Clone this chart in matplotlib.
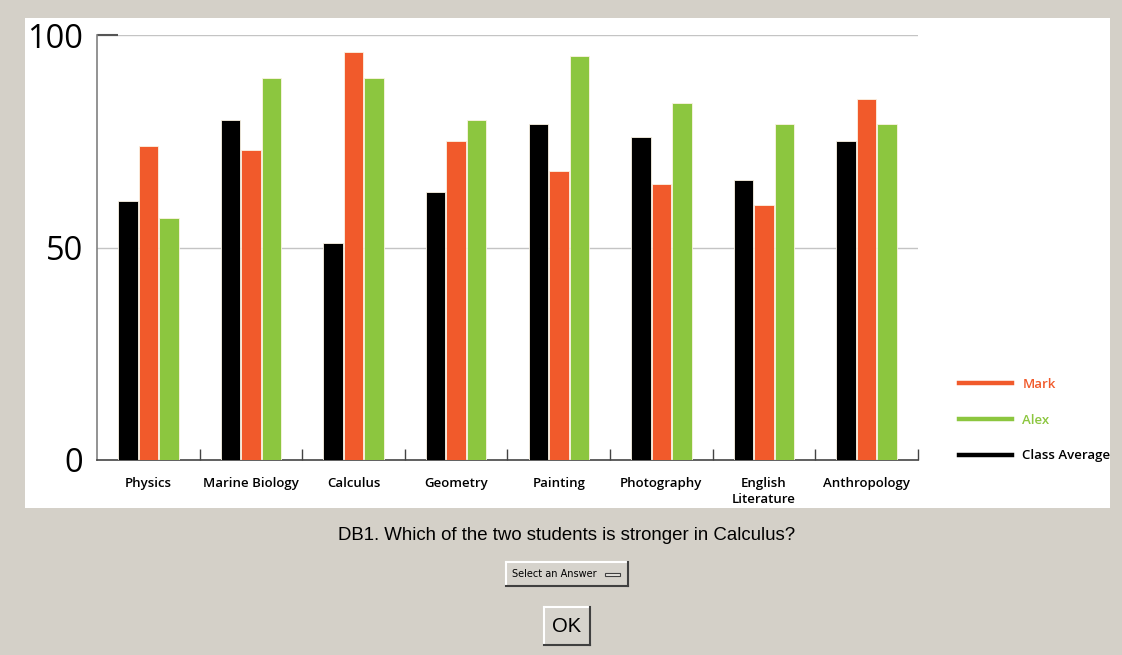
import numpy as np
import matplotlib.pyplot as plt
from matplotlib.lines import Line2D
from matplotlib.patches import Rectangle

subjects = ["Physics", "Marine Biology", "Calculus", "Geometry", "Painting",
            "Photography", "English\nLiterature", "Anthropology"]
class_avg = [61, 80, 51, 63, 79, 76, 66, 75]
mark = [74, 73, 96, 75, 68, 65, 60, 85]
alex = [57, 90, 90, 80, 95, 84, 79, 79]
y_ticks = [0, 50, 100]

BG = "#d4d0c8"
ORANGE = "#f15a2b"
GREEN = "#8cc63f"

W, H = 1122, 655
fig = plt.figure(figsize=(W / 100, H / 100), dpi=100, facecolor=BG)


def fx(px):
    return px / W


def fy(py):
    return 1 - py / H


# white chart panel
fig.patches.append(Rectangle((fx(25), fy(508)), fx(1085), 490 / H,
                             transform=fig.transFigure, facecolor="white",
                             edgecolor="none", zorder=-5))

ax = fig.add_axes([fx(97), fy(460), fx(821), 425 / H])
ax.set_facecolor("none")

x = np.arange(len(subjects))
step = 0.2
w = 0.19
edge = dict(edgecolor="#fbf3e4", linewidth=0.6)
ax.bar(x - step, class_avg, w, color="black", zorder=3, **edge)
ax.bar(x, mark, w, color=ORANGE, zorder=3, **edge)
ax.bar(x + step, alex, w, color=GREEN, zorder=3, **edge)

ax.set_xlim(-0.5, len(subjects) - 0.5)
ax.set_ylim(0, 100)

for v in [50, 100]:
    ax.axhline(v, color="#c4c4c4", linewidth=1, zorder=1)

for s in ["top", "right"]:
    ax.spines[s].set_visible(False)
ax.spines["left"].set_color("#808080")
ax.spines["left"].set_linewidth(1.2)
ax.spines["bottom"].set_color("#444444")
ax.spines["bottom"].set_linewidth(1.2)

ax.set_yticks(y_ticks)
ax.set_yticklabels([str(v) for v in y_ticks], fontsize=23.5, family="Open Sans")
ax.tick_params(axis="y", direction="in", length=15, width=1.5, color="#555555", pad=10)
for i, t in enumerate(ax.yaxis.get_major_ticks()):
    if y_ticks[i] != 100:
        t.tick1line.set_visible(False)

ax.set_xticks(x)
ax.set_xticklabels(subjects, fontsize=9.5, family="Open Sans", weight="semibold",
                   linespacing=1.35)
ax.tick_params(axis="x", length=0, pad=12)
ax.set_xticks(np.arange(0.5, len(subjects)), minor=True)
ax.tick_params(axis="x", which="minor", direction="in", length=8, width=1, color="#444444")

handles = [Line2D([], [], color=ORANGE, linewidth=3.2),
           Line2D([], [], color=GREEN, linewidth=3.2),
           Line2D([], [], color="black", linewidth=3.2)]
leg = fig.legend(handles, ["Mark", "Alex", "Class Average"], loc="center left",
                 bbox_to_anchor=(fx(959), fy(420)), frameon=False,
                 handlelength=4.0, handletextpad=0.8, labelspacing=1.72,
                 borderpad=0, borderaxespad=0,
                 prop={"family": "Open Sans", "size": 9.5, "weight": "semibold"})
for txt, c in zip(leg.get_texts(), [ORANGE, GREEN, "black"]):
    txt.set_color(c)

fig.text(fx(567), fy(536), "DB1. Which of the two students is stronger in Calculus?",
         ha="center", va="center", fontsize=13.4, family="Liberation Sans")


def button(x0, y0, x1, y1):
    fig.patches.append(Rectangle((fx(x0), fy(y1)), fx(x1 - x0), (y1 - y0) / H,
                                 transform=fig.transFigure, facecolor="#d6d3cc",
                                 edgecolor="none", zorder=1))
    fig.add_artist(Line2D([fx(x0), fx(x1)], [fy(y0), fy(y0)], color="white", lw=1.5))
    fig.add_artist(Line2D([fx(x0), fx(x0)], [fy(y0), fy(y1)], color="white", lw=1.5))
    fig.add_artist(Line2D([fx(x0), fx(x1)], [fy(y1), fy(y1)], color="#404040", lw=1.5))
    fig.add_artist(Line2D([fx(x1), fx(x1)], [fy(y0), fy(y1)], color="#404040", lw=1.5))


button(506, 562, 628, 586)
fig.text(fx(512), fy(574), "Select an Answer", ha="left", va="center",
         fontsize=7, family="DejaVu Sans")
fig.patches.append(Rectangle((fx(605), fy(576)), fx(15), 3 / H,
                             transform=fig.transFigure, facecolor="#e8e6e0",
                             edgecolor="#404040", linewidth=0.8, zorder=2))

button(544, 607, 590, 645)
fig.text(fx(567), fy(627), "OK", ha="center", va="center", fontsize=14.5,
         family="Liberation Sans")

fig.savefig("out.png", dpi=100, facecolor=BG)
